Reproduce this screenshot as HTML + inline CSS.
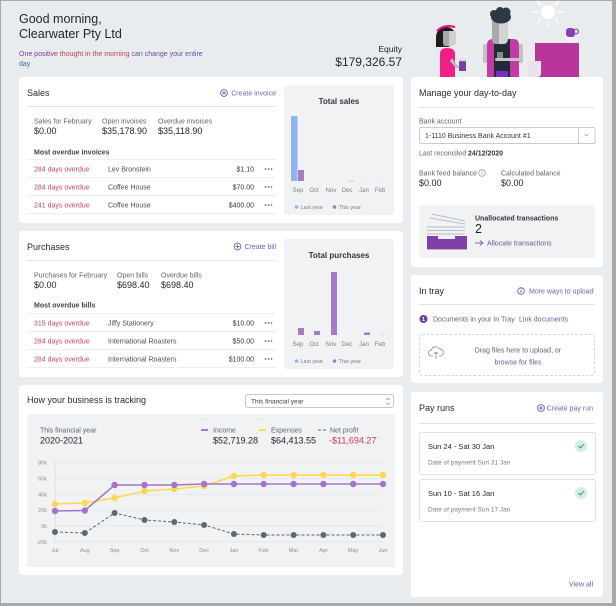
<!DOCTYPE html>
<html><head><meta charset="utf-8"><style>
html,body{margin:0;padding:0;width:616px;height:606px;overflow:hidden;background:#a9a9a9}
svg{display:block;font-family:"Liberation Sans",Arial,sans-serif}
.t{font-size:9px;fill:#262a30}
.l{font-size:7px;fill:#5d6570}
.v{font-size:9px;fill:#1e2126}
.p{font-size:7px;fill:#7c5cab}
.r{font-size:7px;fill:#c4475e}
.n{font-size:7px;fill:#4a4e55}
.a{font-size:7px;fill:#33363b}
.m{font-size:6px;fill:#7a7f86}
.lg{font-size:5.5px;fill:#7a7f86}
.ax{font-size:5.5px;fill:#8a8f96}
.b{font-weight:bold}
</style></head><body>
<svg width="616" height="606" viewBox="0 0 616 606" xmlns="http://www.w3.org/2000/svg">
<rect x="0" y="0" width="616" height="606" fill="#a9a9a9"/>
<rect x="1" y="1" width="611" height="602" fill="#e9ecef"/>

<!-- Header -->
<text x="19" y="23" font-size="12.5" fill="#1f2328">Good morning,</text>
<text x="19" y="38" font-size="12.5" fill="#1f2328">Clearwater Pty Ltd</text>
<text x="19" y="56" font-size="7"><tspan fill="#8a3a8f">One positive </tspan><tspan fill="#b8434f">thought in the morning </tspan><tspan fill="#6a4f9a">can change your </tspan><tspan fill="#4a5fa8">entire</tspan></text>
<text x="19" y="66" font-size="7" fill="#3d66b0">day</text>
<text x="402" y="52" font-size="8.5" text-anchor="end" fill="#222">Equity</text>
<text x="402" y="66" font-size="12" text-anchor="end" fill="#1f2328">$179,326.57</text>

<!-- Illustration -->
<g>
  <circle cx="548" cy="12" r="7" fill="#ffffff"/>
  <g stroke="#ffffff" stroke-width="1.3">
    <line x1="538" y1="12" x2="532" y2="12"/><line x1="558" y1="12" x2="564" y2="12"/>
    <line x1="548" y1="22" x2="548" y2="28"/><line x1="541" y1="19" x2="537" y2="24"/>
    <line x1="555" y1="19" x2="559" y2="24"/><line x1="541" y1="5" x2="537" y2="1"/>
    <line x1="555" y1="5" x2="559" y2="1"/>
  </g>
  <!-- counter -->
  <rect x="535" y="43" width="44" height="34" fill="#b8369c"/>
  <rect x="565" y="37" width="12" height="5" rx="1" fill="#f1f1f3"/>
  <rect x="566" y="28" width="9" height="9" rx="3" fill="#8a3fb3"/>
  <circle cx="576" cy="31.5" r="2.3" fill="none" stroke="#8a3fb3" stroke-width="1.2"/>
  <path d="M528 61 H541 V73 Q541 77 537 77 H532 Q528 77 528 73 Z" fill="#e6e6e8"/>
  <!-- woman -->
  <circle cx="446" cy="37" r="10" fill="#1c1c1c"/>
  <rect x="436" y="37" width="7" height="10" fill="#1c1c1c"/>
  <path d="M443 31 H456 V42 Q456 46 452 46 H446 Q443 46 443 42 Z" fill="#cfcfcf"/>
  <path d="M443 31 H449 V46 H446 Q443 46 443 42 Z" fill="#a9a9a9"/>
  <path d="M437 31 Q444 24 455 27" stroke="#e6127e" stroke-width="2.2" fill="none"/>
  <path d="M440 77 V54 Q440 48 447 48 Q455 48 455 54 V77 Z" fill="#ef1f86"/>
  <path d="M452 58 L458 66 L461 66 L461 68 L456 68 L450 61 Z" fill="#bdbdbd"/>
  <rect x="459" y="61" width="7" height="10" fill="#7b3da6"/>
  <rect x="458.5" y="59" width="8" height="2.2" fill="#dddddd"/>
  <!-- man -->
  <rect x="483" y="44" width="5" height="19" rx="2" fill="#c2c2c2"/>
  <rect x="518" y="44" width="5" height="19" rx="2" fill="#c2c2c2"/>
  <path d="M487 77 V45 Q487 39 493 39 H513 Q519 39 519 45 V77 Z" fill="#c63aa3"/>
  <path d="M494 39 H498 L501 45 L504 39 H510 V77 H494 Z" fill="#1f2b37"/>
  <rect x="496" y="71" width="12" height="6" fill="#7a2dc0"/>
  <rect x="495" y="58" width="28" height="3" rx="1.5" fill="#c2c2c2"/>
  <rect x="497" y="52" width="6" height="6" fill="#8a8a8a"/>
  <path d="M492 20 H508 V39 Q508 44 503 44 H497 Q492 44 492 39 Z" fill="#d3d3d3"/>
  <path d="M492 20 H499 V44 H497 Q492 44 492 39 Z" fill="#a9a9a9"/>
  <ellipse cx="501" cy="17" rx="10" ry="6.5" fill="#2c3848"/>
  <circle cx="494" cy="14" r="4" fill="#2c3848"/>
  <circle cx="506" cy="12" r="4.5" fill="#2c3848"/>
  <circle cx="500" cy="11" r="4" fill="#2c3848"/>
</g>

<!-- ============ SALES CARD ============ -->
<rect x="19" y="77" width="384" height="146" rx="3" fill="#ffffff"/>
<text x="27" y="96" class="t">Sales</text>
<g stroke="#7c5cab" stroke-width="0.9" fill="none"><circle cx="224" cy="93" r="3.4"/><line x1="222" y1="93" x2="226" y2="93"/><line x1="224" y1="91" x2="224" y2="95"/></g>
<text x="276" y="95.5" class="p" text-anchor="end">Create invoice</text>
<line x1="27" y1="106.5" x2="276" y2="106.5" stroke="#e1e4e8"/>
<text x="34" y="123.5" class="l">Sales for February</text>
<text x="102" y="123.5" class="l">Open invoices</text>
<text x="158" y="123.5" class="l">Overdue invoices</text>
<text x="34" y="134" class="v">$0.00</text>
<text x="102" y="134" class="v">$35,178.90</text>
<text x="158" y="134" class="v">$35,118.90</text>
<text x="34" y="154.5" class="l b" fill="#3c4250" style="fill:#3c4250">Most overdue invoices</text>
<g stroke="#eceef0"><line x1="27" y1="159.5" x2="276" y2="159.5"/><line x1="27" y1="177.5" x2="276" y2="177.5"/><line x1="27" y1="195.5" x2="276" y2="195.5"/><line x1="27" y1="213.5" x2="276" y2="213.5"/></g>
<text x="34" y="171.5" class="r">284 days overdue</text><text x="108" y="171.5" class="n">Lev Bronstein</text><text x="254" y="171.5" class="a" text-anchor="end">$1.10</text>
<text x="34" y="189.5" class="r">284 days overdue</text><text x="108" y="189.5" class="n">Coffee House</text><text x="254" y="189.5" class="a" text-anchor="end">$70.00</text>
<text x="34" y="207.5" class="r">241 days overdue</text><text x="108" y="207.5" class="n">Coffee House</text><text x="254" y="207.5" class="a" text-anchor="end">$400.00</text>
<g fill="#6a6e75"><circle cx="265.5" cy="169" r="0.9"/><circle cx="268.5" cy="169" r="0.9"/><circle cx="271.5" cy="169" r="0.9"/>
<circle cx="265.5" cy="187" r="0.9"/><circle cx="268.5" cy="187" r="0.9"/><circle cx="271.5" cy="187" r="0.9"/>
<circle cx="265.5" cy="205" r="0.9"/><circle cx="268.5" cy="205" r="0.9"/><circle cx="271.5" cy="205" r="0.9"/></g>

<rect x="284" y="85" width="110" height="130" rx="3" fill="#f0f2f4"/>
<text x="339" y="104" font-size="8" font-weight="bold" fill="#33363b" text-anchor="middle">Total sales</text>
<rect x="291" y="116" width="6.5" height="65" fill="#8fb4ee"/>
<rect x="298" y="170" width="6" height="11" fill="#a57bc6"/>
<rect x="348" y="180.5" width="6" height="1" fill="#c9ced5"/>
<rect x="364" y="180.5" width="6" height="0.8" fill="#dfe2e6"/>
<rect x="380" y="180.5" width="6" height="0.8" fill="#dfe2e6"/>
<g class="m" text-anchor="middle"><text x="298" y="192">Sep</text><text x="314" y="192">Oct</text><text x="331" y="192">Nov</text><text x="347" y="192">Dec</text><text x="364" y="192">Jan</text><text x="380" y="192">Feb</text></g>
<circle cx="296.5" cy="207" r="1.8" fill="#8fb4ee"/><text x="300.5" y="209" class="lg">Last year</text>
<circle cx="334.5" cy="207" r="1.8" fill="#a57bc6"/><text x="338.5" y="209" class="lg">This year</text>

<!-- ============ PURCHASES CARD ============ -->
<rect x="19" y="231" width="384" height="146" rx="3" fill="#ffffff"/>
<text x="27" y="250" class="t">Purchases</text>
<g stroke="#7c5cab" stroke-width="0.9" fill="none"><circle cx="237.5" cy="246.5" r="3.4"/><line x1="235.5" y1="246.5" x2="239.5" y2="246.5"/><line x1="237.5" y1="244.5" x2="237.5" y2="248.5"/></g>
<text x="276" y="249" class="p" text-anchor="end">Create bill</text>
<line x1="27" y1="260.5" x2="276" y2="260.5" stroke="#e1e4e8"/>
<text x="34" y="277.5" class="l">Purchases for February</text>
<text x="117" y="277.5" class="l">Open bills</text>
<text x="161" y="277.5" class="l">Overdue bills</text>
<text x="34" y="288" class="v">$0.00</text>
<text x="117" y="288" class="v">$698.40</text>
<text x="161" y="288" class="v">$698.40</text>
<text x="34" y="307.5" class="l b" style="fill:#3c4250">Most overdue bills</text>
<g stroke="#eceef0"><line x1="27" y1="313.5" x2="276" y2="313.5"/><line x1="27" y1="331.5" x2="276" y2="331.5"/><line x1="27" y1="349.5" x2="276" y2="349.5"/><line x1="27" y1="367.5" x2="276" y2="367.5"/></g>
<text x="34" y="325.5" class="r">315 days overdue</text><text x="108" y="325.5" class="n">Jiffy Stationery</text><text x="254" y="325.5" class="a" text-anchor="end">$10.00</text>
<text x="34" y="343.5" class="r">284 days overdue</text><text x="108" y="343.5" class="n">International Roasters</text><text x="254" y="343.5" class="a" text-anchor="end">$50.00</text>
<text x="34" y="361.5" class="r">284 days overdue</text><text x="108" y="361.5" class="n">International Roasters</text><text x="254" y="361.5" class="a" text-anchor="end">$100.00</text>
<g fill="#6a6e75"><circle cx="265.5" cy="323" r="0.9"/><circle cx="268.5" cy="323" r="0.9"/><circle cx="271.5" cy="323" r="0.9"/>
<circle cx="265.5" cy="341" r="0.9"/><circle cx="268.5" cy="341" r="0.9"/><circle cx="271.5" cy="341" r="0.9"/>
<circle cx="265.5" cy="359" r="0.9"/><circle cx="268.5" cy="359" r="0.9"/><circle cx="271.5" cy="359" r="0.9"/></g>

<rect x="284" y="239" width="110" height="130" rx="3" fill="#f0f2f4"/>
<text x="339" y="258" font-size="8" font-weight="bold" fill="#33363b" text-anchor="middle">Total purchases</text>
<rect x="298" y="328" width="6" height="7" fill="#a57bc6"/>
<rect x="314" y="331" width="6" height="4" fill="#a57bc6"/>
<rect x="331" y="272" width="6" height="63" fill="#a57bc6"/>
<rect x="364" y="332.5" width="6" height="2.5" fill="#a57bc6"/>
<rect x="380" y="334" width="6" height="1" fill="#d6dbe6"/>
<g class="m" text-anchor="middle"><text x="298" y="346">Sep</text><text x="314" y="346">Oct</text><text x="331" y="346">Nov</text><text x="347" y="346">Dec</text><text x="364" y="346">Jan</text><text x="380" y="346">Feb</text></g>
<circle cx="296.5" cy="361" r="1.8" fill="#8fb4ee"/><text x="300.5" y="363" class="lg">Last year</text>
<circle cx="334.5" cy="361" r="1.8" fill="#a57bc6"/><text x="338.5" y="363" class="lg">This year</text>

<!-- ============ TRACKING CARD ============ -->
<rect x="19" y="385" width="384" height="190" rx="3" fill="#ffffff"/>
<text x="27" y="403" class="t">How your business is tracking</text>
<rect x="245.5" y="394.5" width="148" height="13" rx="2" fill="#ffffff" stroke="#c5cad0"/>
<text x="251" y="403.3" font-size="6.5" fill="#3a3e44">This financial year</text>
<g stroke="#8a8f96" stroke-width="0.7" fill="none"><polyline points="386,400 388,398 390,400"/><polyline points="386,402.5 388,404.5 390,402.5"/></g>

<rect x="27" y="414" width="368" height="153" rx="2" fill="#f0f2f4"/>
<text x="40" y="432.5" class="l">This financial year</text>
<text x="40" y="443.5" class="v">2020-2021</text>
<line x1="201" y1="419" x2="208" y2="419" stroke="#dfe2e6"/><line x1="259" y1="419" x2="266" y2="419" stroke="#dfe2e6"/>
<line x1="201" y1="430" x2="208" y2="430" stroke="#a57bc6" stroke-width="2"/>
<text x="213" y="432.5" class="l">Income</text>
<text x="213" y="443.5" class="v">$52,719.28</text>
<line x1="259" y1="430" x2="266" y2="430" stroke="#fdd94a" stroke-width="2"/>
<text x="271" y="432.5" class="l">Expenses</text>
<text x="271" y="443.5" class="v">$64,413.55</text>
<line x1="318" y1="430" x2="326" y2="430" stroke="#5d6872" stroke-width="1" stroke-dasharray="3,2"/>
<text x="330" y="432.5" class="l">Net profit</text>
<text x="329" y="443.5" font-size="9" fill="#d6365b">-$11,694.27</text>

<g stroke="#e2e5e9" stroke-width="0.7">
<line x1="55" y1="462.6" x2="383" y2="462.6"/><line x1="55" y1="478.5" x2="383" y2="478.5"/>
<line x1="55" y1="494.3" x2="383" y2="494.3"/><line x1="55" y1="510.2" x2="383" y2="510.2"/>
<line x1="55" y1="526" x2="383" y2="526"/><line x1="55" y1="541.9" x2="383" y2="541.9"/>
</g>
<line x1="55" y1="462" x2="55" y2="542" stroke="#d0d4d9" stroke-width="0.7"/>
<g class="ax" text-anchor="end">
<text x="47" y="464.6">80k</text><text x="47" y="480.5">60k</text><text x="47" y="496.3">40k</text>
<text x="47" y="512.2">20k</text><text x="47" y="528">0k</text><text x="47" y="543.9">-20k</text>
</g>
<g class="ax" text-anchor="middle">
<text x="55" y="552">Jul</text><text x="84.8" y="552">Aug</text><text x="114.6" y="552">Sep</text><text x="144.5" y="552">Oct</text>
<text x="174.3" y="552">Nov</text><text x="204.1" y="552">Dec</text><text x="233.9" y="552">Jan</text><text x="263.7" y="552">Feb</text>
<text x="293.6" y="552">Mar</text><text x="323.4" y="552">Apr</text><text x="353.2" y="552">May</text><text x="383" y="552">Jun</text>
</g>
<!-- net profit -->
<polyline fill="none" stroke="#5d6872" stroke-width="1" stroke-dasharray="3,2" points="55,532 84.8,533 114.6,513 144.5,520 174.3,522 204.1,525 233.9,534 263.7,535 293.6,535 323.4,535 353.2,535 383,535"/>
<g fill="#5d6872">
<circle cx="55" cy="532" r="3"/><circle cx="84.8" cy="533" r="3"/><circle cx="114.6" cy="513" r="3"/><circle cx="144.5" cy="520" r="3"/>
<circle cx="174.3" cy="522" r="3"/><circle cx="204.1" cy="525" r="3"/><circle cx="233.9" cy="534" r="3"/><circle cx="263.7" cy="535" r="3"/>
<circle cx="293.6" cy="535" r="3"/><circle cx="323.4" cy="535" r="3"/><circle cx="353.2" cy="535" r="3"/><circle cx="383" cy="535" r="3"/>
</g>
<!-- expenses -->
<polyline fill="none" stroke="#fdd94a" stroke-width="1.5" points="55,504 84.8,503 114.6,498 144.5,491 174.3,489 204.1,486 233.9,476 263.7,475 293.6,475 323.4,475 353.2,475 383,475"/>
<g fill="#fdd94a">
<circle cx="55" cy="504" r="3.2"/><circle cx="84.8" cy="503" r="3.2"/><circle cx="114.6" cy="498" r="3.2"/><circle cx="144.5" cy="491" r="3.2"/>
<circle cx="174.3" cy="489" r="3.2"/><circle cx="204.1" cy="486" r="3.2"/><circle cx="233.9" cy="476" r="3.2"/><circle cx="263.7" cy="475" r="3.2"/>
<circle cx="293.6" cy="475" r="3.2"/><circle cx="323.4" cy="475" r="3.2"/><circle cx="353.2" cy="475" r="3.2"/><circle cx="383" cy="475" r="3.2"/>
</g>
<!-- income -->
<polyline fill="none" stroke="#a474c8" stroke-width="1.5" points="55,511 84.8,510.5 114.6,485 144.5,485 174.3,485 204.1,484 233.9,484 263.7,484 293.6,484 323.4,484 353.2,484 383,484"/>
<g fill="#a474c8">
<circle cx="55" cy="511" r="3.2"/><circle cx="84.8" cy="510.5" r="3.2"/><circle cx="114.6" cy="485" r="3.2"/><circle cx="144.5" cy="485" r="3.2"/>
<circle cx="174.3" cy="485" r="3.2"/><circle cx="204.1" cy="484" r="3.2"/><circle cx="233.9" cy="484" r="3.2"/><circle cx="263.7" cy="484" r="3.2"/>
<circle cx="293.6" cy="484" r="3.2"/><circle cx="323.4" cy="484" r="3.2"/><circle cx="353.2" cy="484" r="3.2"/><circle cx="383" cy="484" r="3.2"/>
</g>

<!-- ============ MANAGE CARD ============ -->
<rect x="411" y="77" width="192" height="190" rx="3" fill="#ffffff"/>
<text x="419" y="96" class="t">Manage your day-to-day</text>
<line x1="419" y1="107.5" x2="595" y2="107.5" stroke="#e1e4e8"/>
<text x="419" y="123.5" class="l">Bank account</text>
<rect x="419.5" y="127.5" width="175.5" height="16" rx="1.5" fill="#ffffff" stroke="#c8ccd1"/>
<line x1="578.5" y1="128" x2="578.5" y2="143" stroke="#c8ccd1"/>
<polyline points="584.5,134 586.5,136 588.5,134" fill="none" stroke="#9a9fa6" stroke-width="0.7"/>
<text x="425" y="138" class="a">1-1110 Business Bank Account #1</text>
<text x="419" y="155.5" class="l">Last reconciled</text>
<text x="468" y="155.5" class="a b">24/12/2020</text>
<text x="419" y="175.5" class="l">Bank feed balance</text>
<circle cx="482" cy="173" r="3.3" fill="none" stroke="#8a8f96" stroke-width="0.7"/>
<line x1="482" y1="172" x2="482" y2="175" stroke="#8a8f96" stroke-width="0.7"/><circle cx="482" cy="170.9" r="0.45" fill="#8a8f96"/>
<text x="501" y="175.5" class="l">Calculated balance</text>
<text x="419" y="186" class="v">$0.00</text>
<text x="501" y="186" class="v">$0.00</text>

<rect x="419" y="205" width="176" height="53" rx="2" fill="#f0f2f4"/>
<g stroke="#b9bec5" stroke-width="0.9" fill="none">
<line x1="432" y1="214" x2="465" y2="221"/><line x1="430" y1="218" x2="465" y2="224"/>
<line x1="427" y1="227" x2="465" y2="227"/><line x1="427" y1="230.5" x2="465" y2="230.5"/><line x1="427" y1="234" x2="465" y2="234"/>
</g>
<path d="M427 236 H438 V239 H455 V236 H467 V249 H427 Z" fill="#7e3fa6"/>
<rect x="427" y="249" width="40" height="1" fill="#c9a9dc"/>
<text x="475" y="220.5" class="a b">Unallocated transactions</text>
<text x="475" y="233" font-size="12.5" fill="#1e2126">2</text>
<g stroke="#7c5cab" stroke-width="0.9" fill="none"><line x1="475" y1="243" x2="483" y2="243"/><polyline points="480,240.5 483,243 480,245.5"/></g>
<text x="487" y="245.5" class="l" style="fill:#6b5b95">Allocate transactions</text>

<!-- ============ IN TRAY ============ -->
<rect x="411" y="275" width="192" height="108" rx="3" fill="#ffffff"/>
<text x="419" y="294" class="t">In tray</text>
<circle cx="521" cy="291" r="3.3" fill="none" stroke="#7c5cab" stroke-width="0.9"/>
<line x1="521" y1="290" x2="521" y2="293" stroke="#7c5cab" stroke-width="0.9"/><circle cx="521" cy="288.9" r="0.5" fill="#7c5cab"/>
<text x="529" y="293.5" class="p">More ways to upload</text>
<line x1="419" y1="304.5" x2="595" y2="304.5" stroke="#e1e4e8"/>
<circle cx="423.5" cy="319" r="4" fill="#6b3fa0"/>
<text x="423.5" y="321" font-size="5.5" font-weight="bold" fill="#ffffff" text-anchor="middle">1</text>
<text x="433" y="321.5" class="l">Documents in your In Tray</text>
<text x="519" y="321.5" class="l" style="fill:#6b5b95">Link documents</text>
<rect x="419.5" y="334.5" width="175" height="41" rx="3" fill="none" stroke="#d0d3d8" stroke-dasharray="2.5,2"/>
<g stroke="#8a8f96" stroke-width="0.8" fill="none">
<path d="M433 356 H431.5 A3 3 0 0 1 431.5 350 A4 4 0 0 1 439 349 A3 3 0 0 1 440.5 356 H439"/>
<line x1="436" y1="352" x2="436" y2="359"/><polyline points="434,354 436,352 438,354"/>
</g>
<text x="518" y="352.5" class="l" text-anchor="middle">Drag files here to upload, or</text>
<text x="518" y="364.5" class="l" text-anchor="middle" style="fill:#6b5b95">browse for files</text>

<!-- ============ PAY RUNS ============ -->
<rect x="411" y="392" width="192" height="205" rx="3" fill="#ffffff"/>
<text x="419" y="411" class="t">Pay runs</text>
<g stroke="#7c5cab" stroke-width="0.9" fill="none"><circle cx="541" cy="408" r="3.4"/><line x1="539" y1="408" x2="543" y2="408"/><line x1="541" y1="406" x2="541" y2="410"/></g>
<text x="593" y="410.5" class="p" text-anchor="end">Create pay run</text>
<line x1="419" y1="423.5" x2="595" y2="423.5" stroke="#e1e4e8"/>
<rect x="419.5" y="432.5" width="176" height="42" rx="2" fill="#ffffff" stroke="#dfe2e6"/>
<text x="428" y="449" font-size="7.5" fill="#23262b">Sun 24 - Sat 30 Jan</text>
<text x="428" y="464.5" font-size="6.5" fill="#7a7f86">Date of payment Sun 31 Jan</text>
<circle cx="581" cy="446" r="6" fill="#d3efe0"/>
<polyline points="578.5,446 580.5,448 583.7,444.2" fill="none" stroke="#2f8f5b" stroke-width="0.9"/>
<rect x="419.5" y="479.5" width="176" height="42" rx="2" fill="#ffffff" stroke="#dfe2e6"/>
<text x="428" y="496" font-size="7.5" fill="#23262b">Sun 10 - Sat 16 Jan</text>
<text x="428" y="511.5" font-size="6.5" fill="#7a7f86">Date of payment Sun 17 Jan</text>
<circle cx="581" cy="493" r="6" fill="#d3efe0"/>
<polyline points="578.5,493 580.5,495 583.7,491.2" fill="none" stroke="#2f8f5b" stroke-width="0.9"/>
<text x="593" y="586.5" class="l" text-anchor="end" style="fill:#6b5b95">View all</text>
</svg>
</body></html>
